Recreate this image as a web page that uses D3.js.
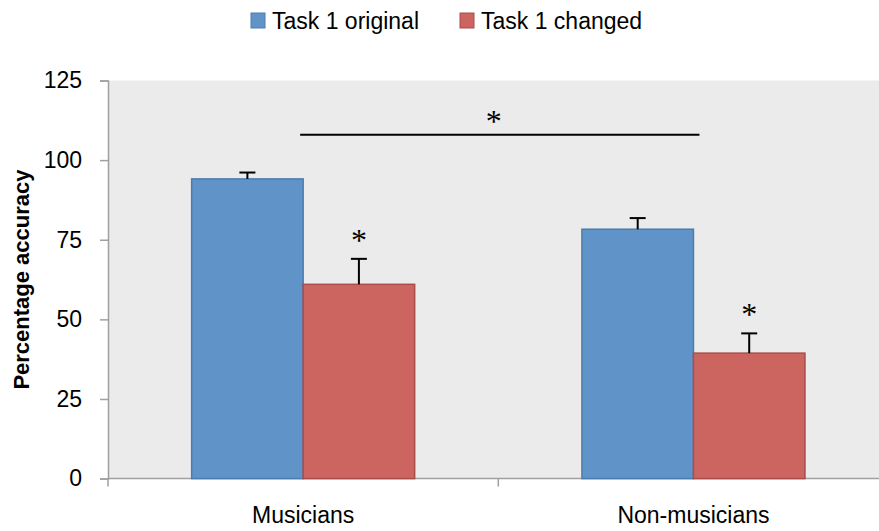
<!DOCTYPE html>
<html>
<head>
<meta charset="utf-8">
<script src="https://cdn.jsdelivr.net/npm/d3@7"></script>
<style>
  body { margin: 0; background: #fff; }
  text { font-family: "Liberation Sans", Arial, sans-serif; fill: #000; }
</style>
</head>
<body>
<script>
// data
var groups = ["Musicians", "Non-musicians"];
var series = ["Task 1 original", "Task 1 changed"];
var means = [[94.1, 61.0], [78.3, 39.4]];
var errors = [[2.0, 8.0], [3.5, 6.2]];
var starred = [[false, true], [false, true]];
var yTicks = [0, 25, 50, 75, 100, 125];
var groupLineValue = 108;

var W = 879, H = 531;
var plotL = 108, plotR = 888.6, plotT = 80.5, plotB = 478.6;
var fills = ["#6094c8", "#cc6560"];
var strokes = ["#4a7cb0", "#a84d4a"];

var svg = d3.select("body").append("svg")
    .attr("width", W).attr("height", H);

var x0 = d3.scaleBand().domain(groups).range([plotL, plotR])
    .paddingInner(0.4286).paddingOuter(0.2143);
var x1 = d3.scaleBand().domain(series).range([0, x0.bandwidth()]);
var y = d3.scaleLinear().domain([0, 125]).range([plotB, plotT]);

// plot background
svg.append("rect")
    .attr("x", plotL).attr("y", y(125))
    .attr("width", plotR - plotL).attr("height", y(0) - y(125))
    .attr("fill", "#ebebeb");

// y axis
var yAxis = svg.append("g")
    .attr("transform", "translate(" + plotL + ",0)")
    .call(d3.axisLeft(y).tickValues(yTicks).tickSize(8).tickPadding(18));
yAxis.select(".domain").attr("stroke", "#a0a0a0").attr("stroke-width", 1.5);
yAxis.selectAll(".tick line").attr("stroke", "#a0a0a0").attr("stroke-width", 1.5);
yAxis.selectAll(".tick text")
    .attr("font-size", 23).attr("font-family", "Liberation Sans, Arial, sans-serif")
    .attr("fill", "#000");

// x axis
var xg = svg.append("g").attr("transform", "translate(0," + plotB + ")");
xg.append("line").attr("x1", plotL).attr("x2", plotR)
    .attr("stroke", "#a0a0a0").attr("stroke-width", 1.5);
xg.selectAll(".bound")
    .data(d3.range(groups.length + 1))
    .enter().append("line")
    .attr("x1", function(i) { return plotL + i * x0.step(); })
    .attr("x2", function(i) { return plotL + i * x0.step(); })
    .attr("y1", 0).attr("y2", 8)
    .attr("stroke", "#a0a0a0").attr("stroke-width", 1.5);
xg.selectAll(".lab")
    .data(groups)
    .enter().append("text")
    .attr("x", function(d) { return x0(d) + x0.bandwidth() / 2; })
    .attr("y", 44)
    .attr("text-anchor", "middle")
    .attr("font-size", 23)
    .text(function(d) { return d; });

// bars
var cells = [];
groups.forEach(function(g, gi) {
    series.forEach(function(s, si) {
        cells.push({g: g, s: s, si: si, v: means[gi][si], e: errors[gi][si], star: starred[gi][si]});
    });
});

var bars = svg.append("g");
bars.selectAll("rect")
    .data(cells)
    .enter().append("rect")
    .attr("x", function(d) { return x0(d.g) + x1(d.s); })
    .attr("y", function(d) { return y(d.v); })
    .attr("width", x1.bandwidth())
    .attr("height", function(d) { return y(0) - y(d.v); })
    .attr("fill", function(d) { return fills[d.si]; })
    .attr("stroke", function(d) { return strokes[d.si]; })
    .attr("stroke-width", 1.5);

// error bars (upper only)
var eb = svg.append("g").attr("stroke", "#000").attr("stroke-width", 2);
cells.forEach(function(d) {
    var cx = x0(d.g) + x1(d.s) + x1.bandwidth() / 2;
    eb.append("line").attr("x1", cx).attr("x2", cx)
        .attr("y1", y(d.v)).attr("y2", y(d.v + d.e));
    eb.append("line").attr("x1", cx - 8).attr("x2", cx + 8)
        .attr("y1", y(d.v + d.e)).attr("y2", y(d.v + d.e));
});

// asterisks
function star(cx, cy) {
    svg.append("text")
        .attr("x", cx).attr("y", cy + 14)
        .attr("text-anchor", "middle")
        .style("font-family", "'Liberation Serif', serif")
        .attr("font-size", 32)
        .text("*");
}
cells.filter(function(d) { return d.star; }).forEach(function(d) {
    var cx = x0(d.g) + x1(d.s) + x1.bandwidth() / 2;
    star(cx, y(d.v + d.e) - 22);
});

// group comparison line
var lx1 = x0(groups[0]) + x0.bandwidth() / 2 - 3;
var lx2 = x0(groups[1]) + x0.bandwidth() / 2 + 6;
svg.append("line")
    .attr("x1", lx1).attr("x2", lx2)
    .attr("y1", y(groupLineValue)).attr("y2", y(groupLineValue))
    .attr("stroke", "#000").attr("stroke-width", 2);
star((lx1 + lx2) / 2 - 6, y(groupLineValue) - 17);

// y label
svg.append("text")
    .attr("transform", "translate(29," + (plotT + plotB) / 2 + ") rotate(-90)")
    .attr("text-anchor", "middle")
    .attr("font-size", 22)
    .attr("font-weight", "bold")
    .text("Percentage accuracy");

// legend
var legX = [250, 459];
var leg = svg.append("g");
series.forEach(function(s, i) {
    leg.append("rect")
        .attr("x", legX[i] + 1).attr("y", 13)
        .attr("width", 14).attr("height", 15)
        .attr("fill", fills[i]).attr("stroke", strokes[i]).attr("stroke-width", 1);
    leg.append("text")
        .attr("x", legX[i] + 22).attr("y", 29)
        .attr("font-size", 23)
        .text(s);
});
</script>
</body>
</html>
